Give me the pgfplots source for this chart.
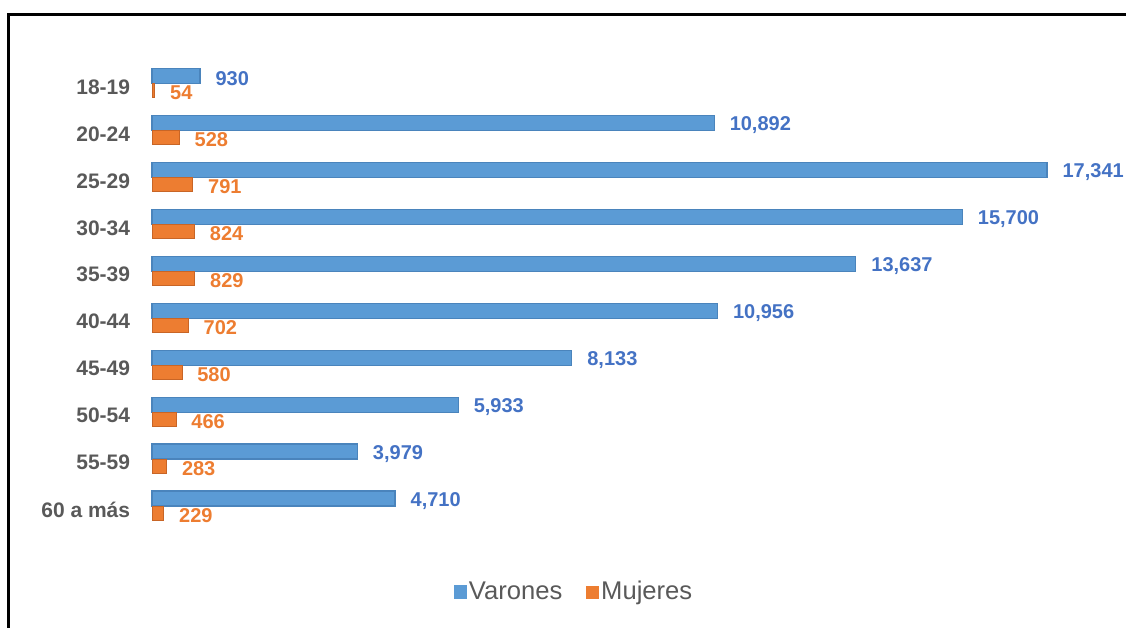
\documentclass[border=0pt]{standalone}
\usepackage{pgfplots}
\pgfplotsset{compat=1.18}
\usepackage{fontspec}
\setmainfont{Liberation Sans}
\definecolor{barblue}{HTML}{5B9BD5}
\definecolor{barblueside}{HTML}{4A84BC}
\definecolor{barorange}{HTML}{ED7D31}
\definecolor{barorangeside}{HTML}{C86526}
\definecolor{lblblue}{HTML}{4472C4}
\definecolor{lblorange}{HTML}{ED7D31}
\definecolor{tickgray}{HTML}{595959}
\begin{document}
\begin{tikzpicture}
\path[use as bounding box] (0,0) rectangle (563bp,314bp);
\draw[black, line width=1.5bp] (4bp,0) -- (4bp,306.5bp) -- (563bp,306.5bp);
\begin{axis}[
  at={(76bp,49.25bp)}, anchor=south west,
  scale only axis, width=464.5bp, height=234.75bp,
  xbar, xmin=0, xmax=18000, ymin=-0.5, ymax=9.5,
  ytick={0,...,9},
  yticklabels={60 a más,55-59,50-54,45-49,40-44,35-39,30-34,25-29,20-24,18-19},
  xtick=\empty,
  axis line style={draw=none}, tick style={draw=none},
  yticklabel style={font=\fontsize{10.5bp}{12bp}\selectfont\bfseries, text=tickgray, inner sep=0pt, xshift=-6.5bp, yshift=-1.75bp},
  clip=false,
  nodes near coords,
  /pgf/number format/assume math mode=true,
  /pgf/number format/1000 sep={,},
  nodes near coords style={anchor=west, inner sep=0pt, xshift=7.5bp, font=\fontsize{10bp}{12bp}\selectfont\bfseries},
  legend style={at={(0.4543,-0.1331)}, anchor=center, draw=none, fill=none,
    legend columns=2, font=\fontsize{12.8bp}{14bp}\selectfont, text=tickgray,
    /tikz/every even column/.append style={column sep=11bp},
    nodes={inner sep=1bp}},
]
\addplot[fill=barblue, draw=barblueside, line width=0.6bp, bar width=7.5bp, bar shift=3.75bp,
  nodes near coords style={text=lblblue, yshift=-1.25bp},
  legend image code/.code={\fill[barblue] (0bp,-3bp) rectangle (6bp,3bp);}]
  coordinates {(4710,0) (3979,1) (5933,2) (8133,3) (10956,4) (13637,5) (15700,6) (17341,7) (10892,8) (930,9)};
\addlegendentry{Varones}
\addplot[fill=barorange, draw=barorangeside, line width=0.4bp, bar width=7bp, bar shift=-3.5bp,
  nodes near coords style={text=lblorange, yshift=-1.2bp},
  legend image code/.code={\fill[barorange] (0bp,-3bp) rectangle (6bp,3bp);}]
  coordinates {(229,0) (283,1) (466,2) (580,3) (702,4) (829,5) (824,6) (791,7) (528,8) (54,9)};
\addlegendentry{Mujeres}
\end{axis}
\end{tikzpicture}
\end{document}
